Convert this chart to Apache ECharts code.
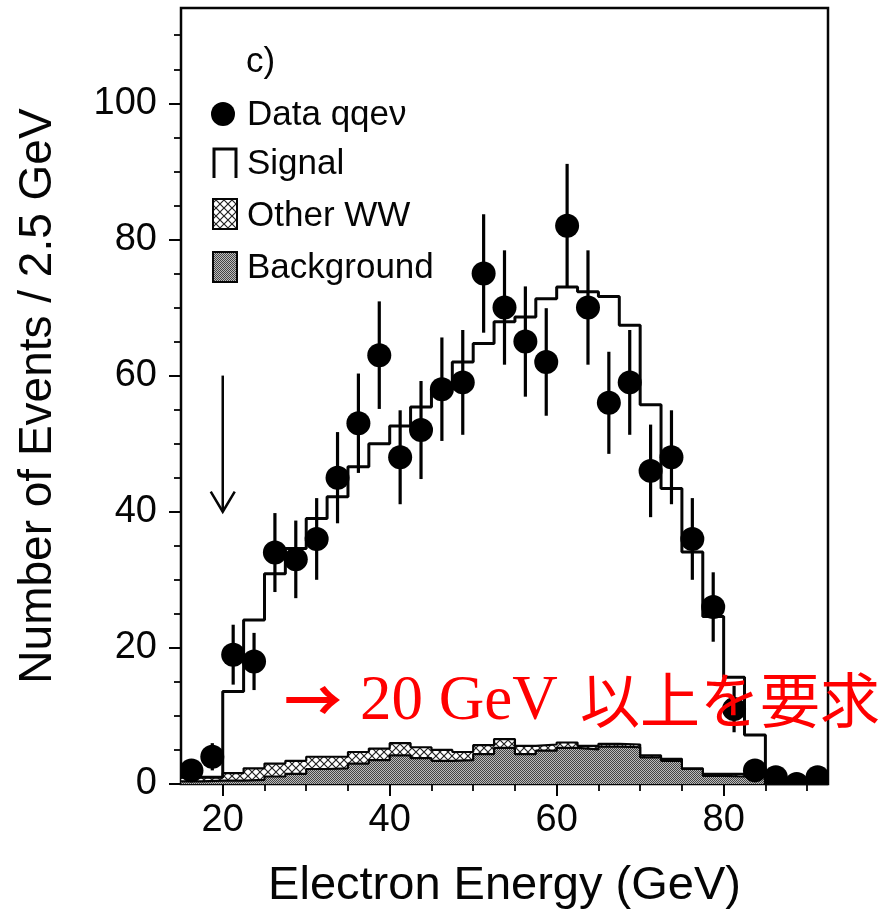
<!DOCTYPE html>
<html>
<head>
<meta charset="utf-8">
<style>
  html, body { margin: 0; padding: 0; background: #fff; }
  #chart { width: 885px; height: 915px; }
</style>
<script src="https://cdn.jsdelivr.net/npm/echarts@6/dist/echarts.min.js"></script>
</head>
<body>
<div id="chart"></div>
<script>
// Electron energy spectrum, 2.5 GeV bins from 15 to 92.5 GeV
const binEdges = [15, 17.5, 20, 22.5, 25, 27.5, 30, 32.5, 35, 37.5, 40, 42.5, 45, 47.5, 50, 52.5,
  55, 57.5, 60, 62.5, 65, 67.5, 70, 72.5, 75, 77.5, 80, 82.5, 85, 87.5, 90, 92.5];
const binCenters = [16.25, 18.75, 21.25, 23.75, 26.25, 28.75, 31.25, 33.75, 36.25, 38.75, 41.25,
  43.75, 46.25, 48.75, 51.25, 53.75, 56.25, 58.75, 61.25, 63.75, 66.25, 68.75, 71.25, 73.75,
  76.25, 78.75, 81.25, 83.75, 86.25, 88.75, 91.25];

// observed events (qqeν) and their statistical errors
const dataCounts = [2, 4, 19, 18, 34, 33, 36, 45, 53, 63, 48, 52, 58, 59, 75, 70, 65, 62, 82, 70,
  56, 59, 46, 48, 36, 26, 11, 2, 1, 0, 1];
const dataErrors = [1.4, 2.0, 4.4, 4.2, 5.8, 5.7, 6.0, 6.7, 7.3, 7.9, 6.9, 7.2, 7.6, 7.7, 8.7, 8.4,
  8.1, 7.9, 9.1, 8.4, 7.5, 7.7, 6.8, 6.9, 6.0, 5.1, 3.4, 1.4, 1.0, 0, 1.0];

// Monte Carlo expectation, per bin (stacked: background, other WW, signal)
const background = [0.4, 0.5, 0.5, 0.6, 1.1, 1.5, 2.2, 2.3, 3.0, 3.5, 4.2, 3.8, 3.4, 3.5, 4.4, 5.3,
  4.4, 4.9, 5.3, 5.1, 5.5, 5.4, 3.9, 3.4, 2.2, 1.2, 1.1, 1.0, 0, 0, 0];
const otherWW = [0.6, 0.5, 1.1, 1.7, 1.9, 1.9, 1.8, 1.7, 1.7, 1.7, 1.8, 1.6, 1.6, 1.2, 1.3, 1.3,
  1.2, 0.9, 0.8, 0.5, 0.4, 0.4, 0.3, 0.3, 0.1, 0.3, 0.4, 0.3, 0, 0, 0];
const signal = [0, 0, 12.0, 21.8, 27.9, 31.2, 35.0, 38.2, 41.9, 44.8, 46.6, 50.0, 52.9, 57.3, 59.0,
  61.3, 63.0, 65.5, 66.9, 66.7, 65.7, 61.6, 51.5, 39.7, 31.8, 23.1, 14.2, 5.9, 0, 0, 0];

// energy cut marker: [energy, arrow start, arrow tip]
const cutArrow = [20, 60, 40];

// axis ticks and labels
const xMajorTicks = [20, 40, 60, 80];
const xMinorTicks = [20, 25, 30, 35, 40, 45, 50, 55, 60, 65, 70, 75, 80, 85, 90];
const yMajorTicks = [0, 20, 40, 60, 80, 100];
const yMinorTicks = [5, 10, 15, 20, 25, 30, 35, 40, 45, 50, 55, 60, 65, 70, 75, 80, 85, 90, 95, 100, 105, 110];

const legendLabels = ['Data qqeν', 'Signal', 'Other WW', 'Background'];
const panelLabel = 'c)';
const cutNote = ['→', '20 GeV', '以上を要求'];

const FONT = "'Liberation Sans', Arial, Helvetica, sans-serif";
const INK = '#050505';

function makePattern(w, h, draw) {
  const c = document.createElement('canvas');
  c.width = w; c.height = h;
  draw(c.getContext('2d'));
  return { image: c, repeat: 'repeat' };
}
const stipple = makePattern(2, 2, ctx => {
  ctx.fillStyle = '#bcbcbc'; ctx.fillRect(0, 0, 2, 2);
  ctx.fillStyle = '#444'; ctx.fillRect(0, 0, 1, 1); ctx.fillRect(1, 1, 1, 1);
});
const hatch = makePattern(8, 8, ctx => {
  ctx.fillStyle = '#fff'; ctx.fillRect(0, 0, 8, 8);
  ctx.strokeStyle = '#222'; ctx.lineWidth = 1.2;
  ctx.beginPath();
  ctx.moveTo(0, 0); ctx.lineTo(8, 8);
  ctx.moveTo(8, 0); ctx.lineTo(0, 8);
  ctx.stroke();
});

// step outline points: left edge of each bin, plus the right edge of the last bin
function stepPoints(values) {
  const pts = values.map((v, i) => [binEdges[i], v]);
  pts.push([binEdges[binEdges.length - 1], values[values.length - 1]]);
  return pts;
}
const bgLevel = background.slice();
const wwLevel = background.map((b, i) => b + otherWW[i]);
const totalLevel = wwLevel.map((u, i) => u + signal[i]);

const pointData = binCenters.map((x, i) => [x, dataCounts[i], dataErrors[i]]);

const chart = echarts.init(document.getElementById('chart'), null, { renderer: 'canvas' });

const axisText = { color: INK, fontFamily: FONT, fontSize: 38 };

chart.setOption({
  animation: false,
  backgroundColor: '#fff',
  grid: {
    left: 181, right: 57, top: 8, bottom: 131,
    show: true, borderColor: INK, borderWidth: 2.5, backgroundColor: 'transparent'
  },
  xAxis: [
    {
      type: 'value', min: 15, max: 92.5, position: 'bottom',
      name: 'Electron Energy (GeV)', nameLocation: 'middle', nameGap: 79,
      nameTextStyle: { color: INK, fontFamily: FONT, fontSize: 47 },
      axisLine: { show: false },
      axisTick: { show: true, inside: false, length: 12, customValues: xMajorTicks, lineStyle: { color: INK, width: 2 } },
      axisLabel: Object.assign({ customValues: xMajorTicks, margin: 18 }, axisText),
      splitLine: { show: false }
    },
    {
      type: 'value', min: 15, max: 92.5, position: 'bottom',
      axisLine: { show: false },
      axisTick: { show: true, inside: false, length: 7, customValues: xMinorTicks, lineStyle: { color: INK, width: 1.8 } },
      axisLabel: { show: false },
      splitLine: { show: false }
    }
  ],
  yAxis: [
    {
      type: 'value', min: 0, max: 114, interval: 20, position: 'left',
      name: 'Number of Events / 2.5 GeV', nameLocation: 'middle', nameGap: 120,
      nameTextStyle: { color: INK, fontFamily: FONT, fontSize: 46 },
      axisLine: { show: false },
      axisTick: { show: true, inside: false, length: 12, customValues: yMajorTicks, lineStyle: { color: INK, width: 2 } },
      axisLabel: Object.assign({ customValues: yMajorTicks, margin: 24 }, axisText),
      splitLine: { show: false }
    },
    {
      type: 'value', min: 0, max: 114, interval: 20, position: 'left',
      axisLine: { show: false },
      axisTick: { show: true, inside: false, length: 7, customValues: yMinorTicks, lineStyle: { color: INK, width: 1.8 } },
      axisLabel: { show: false },
      splitLine: { show: false }
    }
  ],
  series: [
    {
      name: 'Other WW', type: 'line', step: 'end', xAxisIndex: 0, yAxisIndex: 0,
      data: stepPoints(wwLevel), symbol: 'none', silent: true, z: 2,
      lineStyle: { color: INK, width: 2.2 },
      areaStyle: { color: hatch, opacity: 1 }
    },
    {
      name: 'Background', type: 'line', step: 'end', xAxisIndex: 0, yAxisIndex: 0,
      data: stepPoints(bgLevel), symbol: 'none', silent: true, z: 3,
      lineStyle: { color: INK, width: 2.2 },
      areaStyle: { color: stipple, opacity: 1 }
    },
    {
      name: 'Signal', type: 'line', step: 'end', xAxisIndex: 0, yAxisIndex: 0,
      data: stepPoints(totalLevel), symbol: 'none', silent: true, z: 4,
      lineStyle: { color: INK, width: 3 }
    },
    {
      name: 'Cut', type: 'custom', xAxisIndex: 0, yAxisIndex: 0, silent: true, z: 5,
      data: [cutArrow],
      renderItem: function (params, api) {
        const a = api.coord([api.value(0), api.value(1)]);
        const b = api.coord([api.value(0), api.value(2)]);
        return {
          type: 'group',
          children: [
            { type: 'line', shape: { x1: a[0], y1: a[1], x2: b[0], y2: b[1] }, style: { stroke: INK, lineWidth: 2.5 } },
            { type: 'polyline', shape: { points: [[b[0] - 12, b[1] - 20], [b[0], b[1]], [b[0] + 12, b[1] - 20]] },
              style: { stroke: INK, lineWidth: 2.5, fill: null } }
          ]
        };
      }
    },
    {
      name: 'Data qqeν', type: 'custom', xAxisIndex: 0, yAxisIndex: 0, silent: true, z: 6, clip: true,
      data: pointData,
      renderItem: function (params, api) {
        const x = api.value(0), y = api.value(1), e = api.value(2);
        const c = api.coord([x, y]);
        const hi = api.coord([x, y + e]);
        const lo = api.coord([x, y - e]);
        return {
          type: 'group',
          children: [
            { type: 'line', shape: { x1: c[0], y1: hi[1], x2: c[0], y2: lo[1] }, style: { stroke: '#000', lineWidth: 3.2 } },
            { type: 'circle', shape: { cx: c[0], cy: c[1], r: 12 }, style: { fill: '#000' } }
          ]
        };
      }
    }
  ],
  graphic: [
    { type: 'text', left: 246, top: 45, style: { text: panelLabel, font: '35px ' + FONT, fill: INK } },
    { type: 'circle', shape: { cx: 223, cy: 114, r: 12 }, style: { fill: '#000' } },
    { type: 'text', x: 247, y: 115, style: { text: legendLabels[0], font: '35px ' + FONT, fill: INK, verticalAlign: 'middle' } },
    { type: 'polyline', shape: { points: [[214, 178], [214, 149], [236, 149], [236, 178]] }, style: { stroke: INK, lineWidth: 3, fill: null } },
    { type: 'text', x: 247, y: 164, style: { text: legendLabels[1], font: '35px ' + FONT, fill: INK, verticalAlign: 'middle' } },
    { type: 'rect', shape: { x: 213, y: 199, width: 24, height: 30 }, style: { fill: hatch, stroke: INK, lineWidth: 2 } },
    { type: 'text', x: 247, y: 216, style: { text: legendLabels[2], font: '35px ' + FONT, fill: INK, verticalAlign: 'middle' } },
    { type: 'rect', shape: { x: 213, y: 252, width: 24, height: 30 }, style: { fill: stipple, stroke: INK, lineWidth: 2 } },
    { type: 'text', x: 247, y: 268, style: { text: legendLabels[3], font: '35px ' + FONT, fill: INK, verticalAlign: 'middle' } },
    { type: 'text', x: 284, y: 700, z: 100, style: { text: cutNote[0], font: "bold 58px 'Noto Sans CJK JP', sans-serif", fill: '#ff0000', verticalAlign: 'middle' } },
    { type: 'text', x: 360, y: 702, z: 100, style: { text: cutNote[1], font: "63px 'Liberation Serif', 'Times New Roman', serif", fill: '#ff0000', verticalAlign: 'middle' } },
    { type: 'text', x: 580, y: 700, z: 100, style: { text: cutNote[2], font: "60px 'Noto Sans CJK JP', sans-serif", fill: '#ff0000', verticalAlign: 'middle' } }
  ]
});
</script>
</body>
</html>
